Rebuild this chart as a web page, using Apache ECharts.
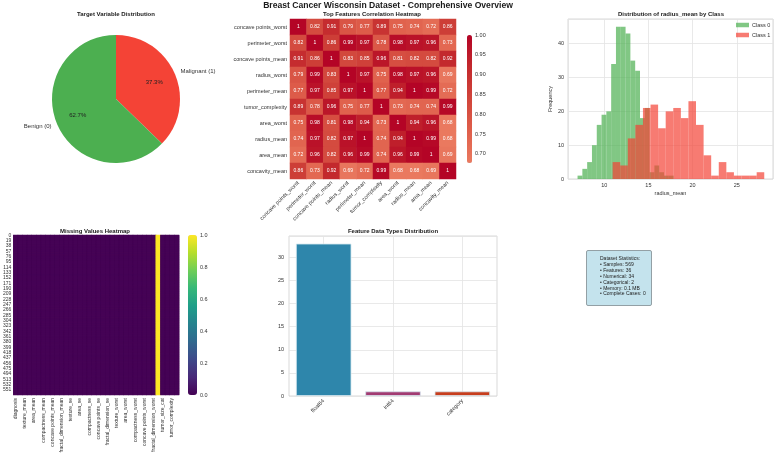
<!DOCTYPE html>
<html>
<head>
<meta charset="utf-8">
<script src="https://cdn.jsdelivr.net/npm/echarts@6/dist/echarts.min.js"></script>
<style>
html, body { margin: 0; padding: 0; background: #ffffff; }
#main { width: 776px; height: 459px; }
</style>
</head>
<body>
<div id="main"></div>
<script>
// target distribution
var targetNames = ['Malignant (1)', 'Benign (0)'];
var targetCounts = [212, 357];

// correlation of the top features
var corrFeatures = ['concave points_worst', 'perimeter_worst', 'concave points_mean', 'radius_worst',
	'perimeter_mean', 'tumor_complexity', 'area_worst', 'radius_mean', 'area_mean', 'concavity_mean'];
var corrMatrix = [
	[1, 0.82, 0.91, 0.79, 0.77, 0.89, 0.75, 0.74, 0.72, 0.86],
	[0.82, 1, 0.86, 0.99, 0.97, 0.78, 0.98, 0.97, 0.96, 0.73],
	[0.91, 0.86, 1, 0.83, 0.85, 0.96, 0.81, 0.82, 0.82, 0.92],
	[0.79, 0.99, 0.83, 1, 0.97, 0.75, 0.98, 0.97, 0.96, 0.69],
	[0.77, 0.97, 0.85, 0.97, 1, 0.77, 0.94, 1, 0.99, 0.72],
	[0.89, 0.78, 0.96, 0.75, 0.77, 1, 0.73, 0.74, 0.74, 0.99],
	[0.75, 0.98, 0.81, 0.98, 0.94, 0.73, 1, 0.94, 0.96, 0.68],
	[0.74, 0.97, 0.82, 0.97, 1, 0.74, 0.94, 1, 0.99, 0.68],
	[0.72, 0.96, 0.82, 0.96, 0.99, 0.74, 0.96, 0.99, 1, 0.69],
	[0.86, 0.73, 0.92, 0.69, 0.72, 0.99, 0.68, 0.68, 0.69, 1]
];
var corrMin = 0.677;

// radius_mean histogram, 20 bins per class
var class0BinStart = 6.981, class0BinWidth = 0.5435;
var class0Counts = [1, 3, 5, 10, 16, 19, 20, 34, 45, 45, 43, 35, 32, 18, 21, 2, 4, 2, 1, 1];
var class1BinStart = 10.95, class1BinWidth = 0.858;
var class1Counts = [5, 4, 12, 16, 21, 22, 15, 20, 21, 18, 23, 16, 7, 1, 5, 2, 1, 1, 1, 2];

// missing values
var sampleCount = 569;
var missingColumns = ['diagnosis', 'radius_mean', 'texture_mean', 'perimeter_mean', 'area_mean',
	'smoothness_mean', 'compactness_mean', 'concavity_mean', 'concave points_mean', 'symmetry_mean',
	'fractal_dimension_mean', 'radius_se', 'texture_se', 'perimeter_se', 'area_se', 'smoothness_se',
	'compactness_se', 'concavity_se', 'concave points_se', 'symmetry_se', 'fractal_dimension_se',
	'radius_worst', 'texture_worst', 'perimeter_worst', 'area_worst', 'smoothness_worst',
	'compactness_worst', 'concavity_worst', 'concave points_worst', 'symmetry_worst',
	'fractal_dimension_worst', 'Unnamed: 32', 'tumor_size_cat', 'area_perimeter_ratio',
	'tumor_complexity', 'shape_irregularity'];
var missingFlags = [0, 0, 0, 0, 0, 0, 0, 0, 0, 0, 0, 0, 0, 0, 0, 0, 0, 0, 0, 0, 0,
	0, 0, 0, 0, 0, 0, 0, 0, 0, 0, 1, 0, 0, 0, 0];

// data types
var dtypeNames = ['float64', 'int64', 'category'];
var dtypeCounts = [33, 1, 1];
var dtypeColors = ['#2e86ab', '#a23b72', '#c73e1d'];

// summary box
var statLines = ['Dataset Statistics:', '\u2022 Samples: 569', '\u2022 Features: 36', '\u2022 Numerical: 34',
	'\u2022 Categorical: 2', '\u2022 Memory: 0.1 MB', '\u2022 Complete Cases: 0'];

var FONT = '"Liberation Sans", Arial, sans-serif';
var TXT = '#333333';
var GRIDLINE = '#e3e3e3';
var FRAME = '#cfcfcf';

var corrData = [];
for (var i = 0; i < corrFeatures.length; i++) {
	for (var j = 0; j < corrFeatures.length; j++) {
		corrData.push([j, i, corrMatrix[i][j]]);
	}
}

function histData(start, width, counts) {
	var out = [];
	for (var k = 0; k < counts.length; k++) {
		out.push([start + k * width, start + (k + 1) * width, counts[k]]);
	}
	return out;
}

function renderHist(params, api) {
	var p0 = api.coord([api.value(0), api.value(2)]);
	var p1 = api.coord([api.value(1), 0]);
	return {
		type : 'rect',
		shape : { x : p0[0], y : p0[1], width : p1[0] - p0[0], height : p1[1] - p0[1] },
		style : api.style()
	};
}

var rowIds = [];
for (var r = 0; r < sampleCount; r++) rowIds.push(String(r));
var missingData = [];
for (var c = 0; c < missingColumns.length; c++) {
	for (var r2 = 0; r2 < sampleCount; r2++) {
		missingData.push([c, r2, missingFlags[c]]);
	}
}

function titleText(x, y, text, size) {
	return {
		type : 'text', x : x, y : y, silent : true,
		style : { text : text, font : 'bold ' + size + 'px ' + FONT, fill : '#1a1a1a',
			textAlign : 'center', textVerticalAlign : 'middle' }
	};
}

option = {
	backgroundColor : '#ffffff',
	animation : false,
	textStyle : { fontFamily : FONT },
	graphic : [
		titleText(388, 6, 'Breast Cancer Wisconsin Dataset - Comprehensive Overview', 8.6),
		titleText(116, 14, 'Target Variable Distribution', 6),
		titleText(372, 14, 'Top Features Correlation Heatmap', 6),
		titleText(671, 14, 'Distribution of radius_mean by Class', 6),
		titleText(95, 231, 'Missing Values Heatmap', 6),
		titleText(393, 231, 'Feature Data Types Distribution', 6),
		{
			type : 'rect', silent : true,
			shape : { x : 586.5, y : 250.5, width : 65, height : 55, r : 1.5 },
			style : { fill : '#c4e3ed', stroke : '#7f8c90', lineWidth : 0.8 }
		},
		{
			type : 'text', x : 600, y : 256, silent : true,
			style : { text : statLines.join('\n'), font : '5px ' + FONT, fill : '#222222',
				lineHeight : 5.85, textVerticalAlign : 'top' }
		}
	],
	legend : {
		data : ['Class 0', 'Class 1'],
		orient : 'vertical', left : 736, top : 22, padding : 0,
		icon : 'rect', itemWidth : 13, itemHeight : 4.5, itemGap : 4,
		textStyle : { fontFamily : FONT, fontSize : 5.5, color : TXT, padding : [0, 0, 0, -2] },
		selectedMode : false
	},
	visualMap : [ {
		type : 'continuous', seriesIndex : 2, min : corrMin, max : 1,
		left : 467, top : 35, itemWidth : 5, itemHeight : 128, padding : 0,
		calculable : false, hoverLink : false,
		inRange : { color : ['#ea7a60', '#df5f4b', '#d1453b', '#c3292d', '#b40426'] }
	}, {
		type : 'continuous', seriesIndex : 6, min : 0, max : 1,
		left : 188, top : 235, itemWidth : 9, itemHeight : 160, padding : 0,
		calculable : false, hoverLink : false,
		inRange : { color : ['#440154', '#482878', '#3e4989', '#31688e', '#26828e',
			'#1f9e89', '#35b779', '#6ece58', '#b5de2b', '#fde725'] }
	} ],
	grid : [
		{ left : 290, top : 19, width : 166, height : 160 },
		{ left : 467, top : 35, width : 5, height : 128 },
		{ left : 568, top : 19, width : 205, height : 160, show : true, borderColor : FRAME, borderWidth : 0.8 },
		{ left : 13, top : 235, width : 166, height : 160 },
		{ left : 188, top : 235, width : 9, height : 160 },
		{ left : 289, top : 236, width : 208, height : 160, show : true, borderColor : FRAME, borderWidth : 0.8 }
	],
	xAxis : [ {
		gridIndex : 0, type : 'category', data : corrFeatures,
		axisLine : { show : false }, axisTick : { show : false }, splitLine : { show : false },
		axisLabel : { interval : 0, rotate : 45, margin : 3, fontFamily : FONT, fontSize : 5.5, color : TXT }
	}, {
		gridIndex : 1, type : 'value', show : false
	}, {
		gridIndex : 2, type : 'value', min : 5.9, max : 29.1,
		name : 'radius_mean', nameLocation : 'middle', nameGap : 11,
		nameTextStyle : { fontFamily : FONT, fontSize : 5.5, color : TXT },
		axisLine : { show : false }, axisTick : { show : false },
		splitLine : { show : true, lineStyle : { color : GRIDLINE, width : 0.8 } },
		axisLabel : { margin : 3, showMinLabel : false, showMaxLabel : false, fontFamily : FONT, fontSize : 5.5, color : TXT }
	}, {
		gridIndex : 3, type : 'category', data : missingColumns,
		axisLine : { show : false }, axisTick : { show : false }, splitLine : { show : false },
		axisLabel : { interval : 1, rotate : 90, margin : 3, fontFamily : FONT, fontSize : 5, color : TXT }
	}, {
		gridIndex : 4, type : 'value', show : false
	}, {
		gridIndex : 5, type : 'category', data : dtypeNames,
		axisLine : { show : false }, axisTick : { show : false, alignWithLabel : true },
		splitLine : { show : true, alignWithLabel : true, lineStyle : { color : GRIDLINE, width : 0.8 } },
		axisLabel : { rotate : 45, margin : 4, fontFamily : FONT, fontSize : 5.5, color : TXT }
	} ],
	yAxis : [ {
		gridIndex : 0, type : 'category', data : corrFeatures, inverse : true,
		axisLine : { show : false }, axisTick : { show : false }, splitLine : { show : false },
		axisLabel : { interval : 0, margin : 3, fontFamily : FONT, fontSize : 5.5, color : TXT }
	}, {
		gridIndex : 1, type : 'value', min : corrMin, max : 1, position : 'right',
		axisLine : { show : false }, axisTick : { show : false }, splitLine : { show : false },
		axisLabel : { margin : 3, showMinLabel : false, fontFamily : FONT, fontSize : 5.5, color : TXT,
			formatter : function(v) { return v.toFixed(2); } }
	}, {
		gridIndex : 2, type : 'value', min : 0, max : 47.3, interval : 10,
		name : 'Frequency', nameLocation : 'middle', nameGap : 12,
		nameTextStyle : { fontFamily : FONT, fontSize : 5.5, color : TXT },
		axisLine : { show : false }, axisTick : { show : false },
		splitLine : { show : true, lineStyle : { color : GRIDLINE, width : 0.8 } },
		axisLabel : { margin : 4, showMaxLabel : false, fontFamily : FONT, fontSize : 5.5, color : TXT }
	}, {
		gridIndex : 3, type : 'category', data : rowIds, inverse : true,
		axisLine : { show : false }, axisTick : { show : false }, splitLine : { show : false },
		axisLabel : { interval : 18, margin : 2, fontFamily : FONT, fontSize : 5, color : TXT }
	}, {
		gridIndex : 4, type : 'value', min : 0, max : 1, interval : 0.2, position : 'right',
		axisLine : { show : false }, axisTick : { show : false }, splitLine : { show : false },
		axisLabel : { margin : 3, fontFamily : FONT, fontSize : 5.5, color : TXT,
			formatter : function(v) { return v.toFixed(1); } }
	}, {
		gridIndex : 5, type : 'value', min : 0, max : 34.65, interval : 5,
		axisLine : { show : false }, axisTick : { show : false },
		splitLine : { show : true, lineStyle : { color : GRIDLINE, width : 0.8 } },
		axisLabel : { margin : 5, showMaxLabel : false, fontFamily : FONT, fontSize : 5.5, color : TXT }
	} ],
	series : [ {
		// pie slices with outer names
		type : 'pie', center : [116, 99], radius : 64, startAngle : 90, clockwise : true,
		avoidLabelOverlap : false, silent : true,
		data : [
			{ name : targetNames[0], value : targetCounts[0], itemStyle : { color : '#f44336' } },
			{ name : targetNames[1], value : targetCounts[1], itemStyle : { color : '#4caf50' } }
		],
		label : { show : true, position : 'outside', formatter : '{b}', distanceToLabelLine : 0,
			fontFamily : FONT, fontSize : 6, color : TXT },
		labelLine : { show : false, length : 6, length2 : 0 }
	}, {
		// transparent ring to place the percentages at 0.6 r
		type : 'pie', center : [116, 99], radius : 77, startAngle : 90, clockwise : true,
		percentPrecision : 1, silent : true,
		data : [
			{ name : targetNames[0], value : targetCounts[0] },
			{ name : targetNames[1], value : targetCounts[1] }
		],
		itemStyle : { color : 'rgba(0,0,0,0)' },
		label : { show : true, position : 'inside', formatter : '{d}%', fontFamily : FONT, fontSize : 6, color : '#222222' },
		labelLine : { show : false }
	}, {
		type : 'heatmap', xAxisIndex : 0, yAxisIndex : 0, data : corrData, silent : true,
		label : { show : true, fontFamily : FONT, fontSize : 5, color : '#ffffff',
			formatter : function(p) { return String(p.value[2]); } }
	}, {
		name : 'Class 0', type : 'custom', xAxisIndex : 2, yAxisIndex : 2, silent : true,
		renderItem : renderHist, encode : { x : [0, 1], y : 2 },
		itemStyle : { color : '#4caf50', opacity : 0.7 },
		data : histData(class0BinStart, class0BinWidth, class0Counts)
	}, {
		name : 'Class 1', type : 'custom', xAxisIndex : 2, yAxisIndex : 2, silent : true,
		renderItem : renderHist, encode : { x : [0, 1], y : 2 },
		itemStyle : { color : '#f44336', opacity : 0.7 },
		data : histData(class1BinStart, class1BinWidth, class1Counts)
	}, {
		type : 'scatter', xAxisIndex : 1, yAxisIndex : 1, data : []
	}, {
		type : 'heatmap', xAxisIndex : 3, yAxisIndex : 3, data : missingData, silent : true,
		progressive : 0
	}, {
		type : 'scatter', xAxisIndex : 4, yAxisIndex : 4, data : []
	}, {
		type : 'bar', xAxisIndex : 5, yAxisIndex : 5, barWidth : '80%', silent : true,
		data : dtypeCounts.map(function(v, k) {
			return { value : v, itemStyle : { color : dtypeColors[k], borderColor : '#d6e9f0', borderWidth : 0.8 } };
		})
	} ]
};

echarts.init(document.getElementById('main')).setOption(option);
</script>
</body>
</html>
